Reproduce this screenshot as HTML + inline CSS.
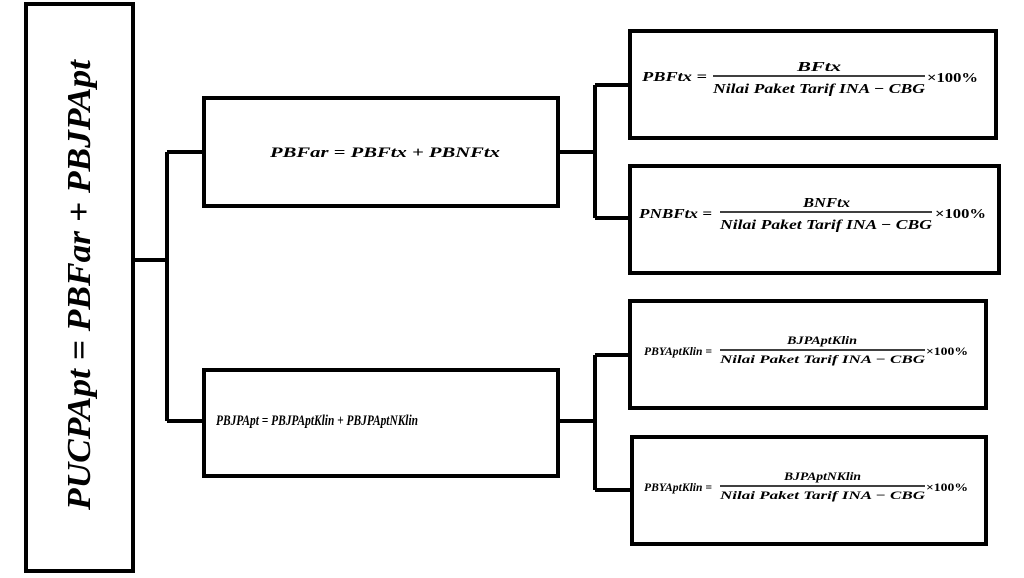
<!DOCTYPE html>
<html><head><meta charset="utf-8"><style>html,body{margin:0;padding:0;background:#fff}</style></head>
<body>
<svg width="1024" height="578" viewBox="0 0 1024 578" xmlns="http://www.w3.org/2000/svg" style="display:block;font-family:'Liberation Serif',serif;font-weight:bold;font-style:italic">
<g fill="none" stroke="#000" stroke-width="4">
<rect x="26" y="4" width="107" height="567"/>
<rect x="204" y="98" width="354" height="108"/>
<rect x="204" y="370" width="354" height="106"/>
<rect x="630" y="31" width="366" height="107"/>
<rect x="630" y="166" width="369" height="107"/>
<rect x="630" y="301" width="356" height="107"/>
<rect x="632" y="437" width="354" height="107"/>
<path d="M133 260H167M167 152V421M167 152H204M167 421H204"/>
<path d="M558 152H595M595 85V218M595 85H630M595 218H630"/>
<path d="M558 421H595M595 355V490M595 355H630M595 490H632"/>
</g>
<g stroke="#000" stroke-width="1.5">
<line x1="713" y1="76" x2="925" y2="76"/>
<line x1="720" y1="212" x2="932" y2="212"/>
<line x1="720" y1="350" x2="925" y2="350"/>
<line x1="720" y1="486" x2="925" y2="486"/>
</g>
<text x="0" y="0" transform="translate(90,510) rotate(-90)" font-size="34" textLength="450" lengthAdjust="spacingAndGlyphs">PUCPApt = PBFar + PBJPApt</text>
<text x="270" y="157" font-size="15" textLength="230" lengthAdjust="spacingAndGlyphs">PBFar = PBFtx + PBNFtx</text>
<text x="216" y="425" font-size="15" textLength="202" lengthAdjust="spacingAndGlyphs">PBJPApt = PBJPAptKlin + PBJPAptNKlin</text>
<g font-size="14">
<text x="642" y="81" textLength="65" lengthAdjust="spacingAndGlyphs">PBFtx =</text>
<text x="797" y="71" textLength="44" lengthAdjust="spacingAndGlyphs">BFtx</text>
<text x="713" y="93" textLength="212" lengthAdjust="spacingAndGlyphs">Nilai Paket Tarif INA − CBG</text>
<text x="927" y="82" font-style="normal" textLength="51" lengthAdjust="spacingAndGlyphs">×100%</text>
<text x="639" y="218" textLength="73" lengthAdjust="spacingAndGlyphs">PNBFtx =</text>
<text x="803" y="207" textLength="47" lengthAdjust="spacingAndGlyphs">BNFtx</text>
<text x="720" y="229" textLength="212" lengthAdjust="spacingAndGlyphs">Nilai Paket Tarif INA − CBG</text>
<text x="935" y="218" font-style="normal" textLength="51" lengthAdjust="spacingAndGlyphs">×100%</text>
</g>
<g font-size="12">
<text x="644" y="355" textLength="68" lengthAdjust="spacingAndGlyphs">PBYAptKlin =</text>
<text x="787" y="344" textLength="70" lengthAdjust="spacingAndGlyphs">BJPAptKlin</text>
<text x="720" y="363" textLength="205" lengthAdjust="spacingAndGlyphs">Nilai Paket Tarif INA − CBG</text>
<text x="926" y="355" font-style="normal" textLength="42" lengthAdjust="spacingAndGlyphs">×100%</text>
<text x="644" y="491" textLength="68" lengthAdjust="spacingAndGlyphs">PBYAptKlin =</text>
<text x="784" y="480" textLength="77" lengthAdjust="spacingAndGlyphs">BJPAptNKlin</text>
<text x="720" y="499" textLength="205" lengthAdjust="spacingAndGlyphs">Nilai Paket Tarif INA − CBG</text>
<text x="926" y="491" font-style="normal" textLength="42" lengthAdjust="spacingAndGlyphs">×100%</text>
</g>
</svg>
</body></html>
